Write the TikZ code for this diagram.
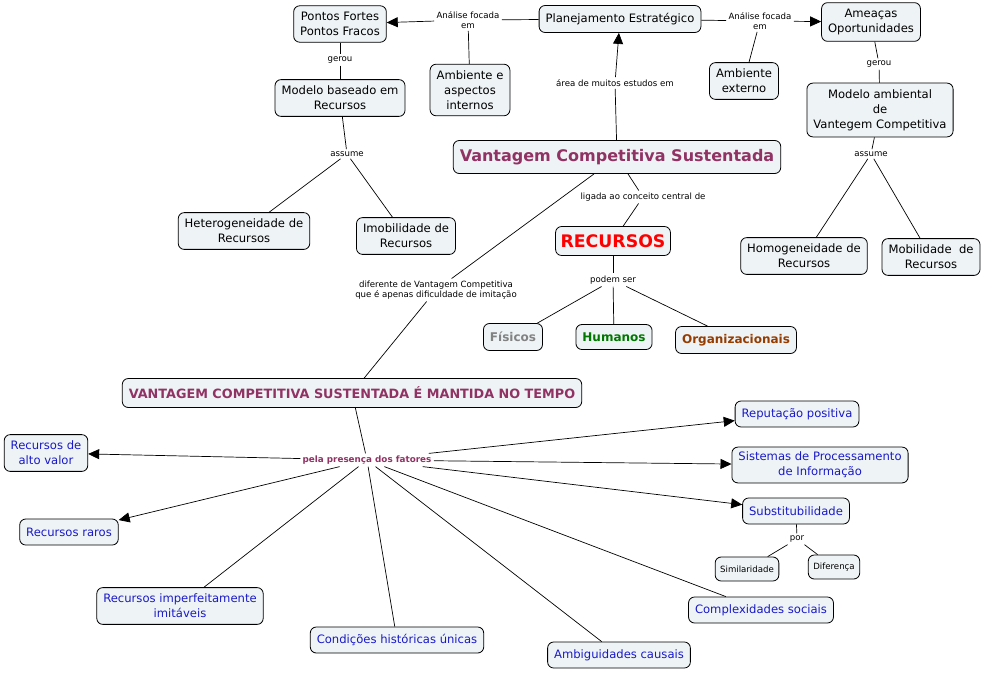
\documentclass[tikz,border=0pt]{standalone}
\usepackage{fontspec}
\setmainfont{DejaVu Sans}
\usetikzlibrary{arrows.meta, positioning}

\definecolor{boxfill}{RGB}{238,243,245}
\definecolor{vcspurple}{RGB}{145,50,100}
\definecolor{fatorblue}{RGB}{25,25,200}
\definecolor{fisgray}{RGB}{130,130,130}
\definecolor{humgreen}{RGB}{0,120,0}
\definecolor{orgbrown}{RGB}{150,60,0}

\tikzset{
  concept/.style={draw, rounded corners=6pt, fill=boxfill, align=center,
    font=\fontsize{11.6}{14.8}\selectfont, inner xsep=6.5pt, inner ysep=6.5pt,
    minimum height=27pt, line width=0.8pt},
  fator/.style={concept, text=fatorblue, minimum height=26pt},
  small/.style={concept, font=\fontsize{8.6}{10}\selectfont, minimum height=24pt, inner xsep=5pt},
  link/.style={align=center, font=\fontsize{8.6}{10}\selectfont, inner sep=2pt},
}

\begin{document}
\begin{tikzpicture}[x=1pt, y=-1pt, line width=0.7pt,
    >={Triangle[length=11pt, width=10pt]}]
  \useasboundingbox (0,0) rectangle (987,672);

  % concepts
  \node[concept] (pontos) at (340,24) {Pontos Fortes\\Pontos Fracos};
  \node[concept] (plan) at (620,19) {Planejamento Estratégico};
  \node[concept] (amea) at (871,22) {Ameaças\\Oportunidades};
  \node[concept] (ambint) at (470,90) {Ambiente e\\aspectos\\internos};
  \node[concept] (ambext) at (744,81) {Ambiente\\externo};
  \node[concept] (mbr) at (340,98) {Modelo baseado em\\Recursos};
  \node[concept] (mavc) at (880,110) {Modelo ambiental\\de\\Vantegem Competitiva};
  \node[concept, font=\fontsize{16}{18}\selectfont\bfseries, text=vcspurple, minimum height=33pt] (vcs) at (617,157) {Vantagem Competitiva Sustentada};
  \node[concept] (hetero) at (244,231) {Heterogeneidade de\\Recursos};
  \node[concept] (imob) at (406,236) {Imobilidade de\\Recursos};
  \node[concept, font=\fontsize{17.3}{19}\selectfont\bfseries, text=red, minimum height=29pt, inner xsep=5pt, inner ysep=4pt] (rec) at (613,241) {RECURSOS};
  \node[concept] (homo) at (804,256) {Homogeneidade de\\Recursos};
  \node[concept] (mob) at (931,257) {Mobilidade\ \ de\\Recursos};
  \node[concept, font=\fontsize{12}{14}\selectfont\bfseries, text=fisgray, inner ysep=4pt] (fis) at (513,337) {Físicos};
  \node[concept, font=\fontsize{12}{14}\selectfont\bfseries, text=humgreen, minimum height=25pt, inner ysep=4pt] (hum) at (614,337) {Humanos};
  \node[concept, font=\fontsize{12}{14}\selectfont\bfseries, text=orgbrown, inner ysep=4pt] (org) at (736,340) {Organizacionais};
  \node[concept, font=\fontsize{12.8}{15}\selectfont\bfseries, text=vcspurple, minimum height=29pt, inner ysep=4pt] (vcsmt) at (352,393) {VANTAGEM COMPETITIVA SUSTENTADA É MANTIDA NO TEMPO};

  % fatores
  \node[fator] (altoval) at (46,453) {Recursos de\\alto valor};
  \node[fator, inner ysep=4pt] (raros) at (69,532) {Recursos raros};
  \node[fator] (imperf) at (180,606) {Recursos imperfeitamente\\imitáveis};
  \node[fator, inner ysep=4pt] (hist) at (397,640) {Condições históricas únicas};
  \node[fator, inner ysep=4pt] (ambig) at (619,655) {Ambiguidades causais};
  \node[fator, inner ysep=4pt] (compl) at (761,610) {Complexidades sociais};
  \node[fator, inner ysep=4pt] (reput) at (797,414) {Reputação positiva};
  \node[fator, inner ysep=5pt] (sist) at (820,465) {Sistemas de Processamento\\de Informação};
  \node[fator, inner ysep=4pt] (subst) at (796,511) {Substitubilidade};
  \node[small, inner ysep=4pt] (simil) at (747,569) {Similaridade};
  \node[small, inner ysep=4pt] (difer) at (834,567) {Diferença};

  % linking phrases
  \node[link] (af1) at (468,20) {Análise focada\\em};
  \node[link] (af2) at (760,21) {Análise focada\\em};
  \node[link] (ger1) at (340,60) {gerou};
  \node[link] (ger2) at (879,64) {gerou};
  \node[link] (area) at (615,83) {área de muitos estudos em};
  \node[link] (ass1) at (347,154) {assume};
  \node[link] (ass2) at (871,154) {assume};
  \node[link] (lig) at (643,197) {ligada ao conceito central de};
  \node[link] (pod) at (613,280) {podem ser};
  \node[link] (dif) at (436,290) {diferente de Vantagem Competitiva\\que é apenas dificuldade de imitação};
  \node[link, font=\fontsize{8.8}{10}\selectfont\bfseries, text=vcspurple] (pres) at (367,460) {pela presença dos fatores};
  \node[link] (por) at (797,539) {por};

  % top
  \draw (plan) -- (af1);
  \draw (ambint) -- (af1);
  \draw[->] (af1) -- (pontos);
  \draw (plan) -- (af2);
  \draw (ambext) -- (af2);
  \draw[->] (af2) -- (amea);
  \draw (pontos) -- (ger1);
  \draw (ger1) -- (mbr);
  \draw (amea) -- (ger2);
  \draw (ger2) -- (mavc);
  \draw (vcs) -- (area);
  \draw[->] (area) -- (plan);

  % modelos
  \draw (mbr) -- (ass1);
  \draw (ass1) -- (hetero);
  \draw (ass1) -- (imob);
  \draw (mavc) -- (ass2);
  \draw (ass2) -- (homo);
  \draw (ass2) -- (mob);

  % recursos
  \draw (vcs) -- (lig);
  \draw (lig) -- (rec);
  \draw (rec) -- (pod);
  \draw (pod) -- (fis);
  \draw (pod) -- (hum);
  \draw (pod) -- (org);
  \draw (vcs) -- (dif);
  \draw (dif) -- (vcsmt);

  % fatores
  \draw (vcsmt) -- (pres);
  \draw[->] (pres) -- (altoval);
  \draw[->] (pres) -- (raros);
  \draw[->] (pres) -- (reput);
  \draw[->] (pres) -- (sist);
  \draw[->] (pres) -- (subst);
  \draw (pres) -- (imperf);
  \draw (pres) -- (hist);
  \draw (pres) -- (ambig);
  \draw (pres) -- (compl);
  \draw (subst) -- (por);
  \draw (por) -- (simil);
  \draw (por) -- (difer);
\end{tikzpicture}
\end{document}
